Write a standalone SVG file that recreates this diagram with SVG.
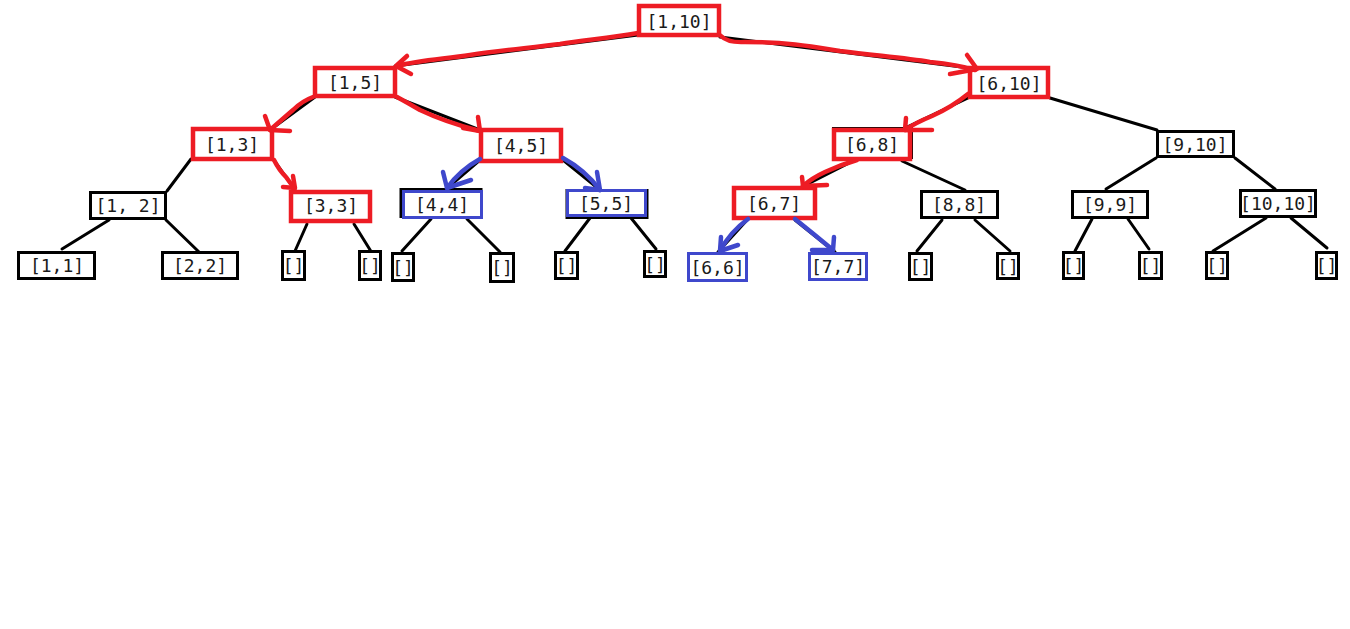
<svg xmlns="http://www.w3.org/2000/svg" width="1350" height="629" viewBox="0 0 1350 629">
<style>
.bg{fill:#ffffff}
.edge{stroke:#000;stroke-width:3;fill:none;stroke-linecap:round}
.box{fill:#fff;stroke:#000;stroke-width:3}
.red{fill:#fff;stroke:#ED1C24;stroke-width:4.5}
.blue{fill:#fff;stroke:#3F48CC;stroke-width:3}
.under{fill:none;stroke:#000;stroke-width:3}
.lbl{font-family:"DejaVu Sans Mono","Liberation Mono",monospace;font-size:18px;fill:#1a1a1a;text-anchor:middle;dominant-baseline:central}
.ra{stroke:#ED1C24;stroke-width:4.5;fill:none;stroke-linecap:round;stroke-linejoin:round}
.ba{stroke:#3F48CC;stroke-width:4.5;fill:none;stroke-linecap:round;stroke-linejoin:round}
</style>
<rect class="bg" x="0" y="0" width="1350" height="629"/>
<g id="connectors">
<line class="edge" x1="638" y1="35" x2="395" y2="66"/>
<line class="edge" x1="720" y1="37" x2="970" y2="68"/>
<line class="edge" x1="315" y1="97" x2="270" y2="130"/>
<line class="edge" x1="395" y1="97" x2="480" y2="130"/>
<line class="edge" x1="968" y1="98" x2="905" y2="128"/>
<line class="edge" x1="1050" y1="98" x2="1157" y2="130"/>
<line class="edge" x1="191" y1="159" x2="167" y2="191"/>
<line class="edge" x1="274" y1="160" x2="295" y2="190"/>
<line class="edge" x1="109" y1="220" x2="62" y2="249"/>
<line class="edge" x1="166" y1="220" x2="199" y2="252"/>
<line class="edge" x1="307" y1="224" x2="295" y2="251"/>
<line class="edge" x1="354" y1="224" x2="372" y2="253"/>
<line class="edge" x1="480" y1="160" x2="445" y2="190"/>
<line class="edge" x1="563" y1="160" x2="600" y2="190"/>
<line class="edge" x1="431" y1="219" x2="402" y2="251"/>
<line class="edge" x1="467" y1="219" x2="500" y2="252"/>
<line class="edge" x1="590" y1="218" x2="565" y2="251"/>
<line class="edge" x1="631" y1="218" x2="656" y2="249"/>
<line class="edge" x1="855" y1="160" x2="800" y2="188"/>
<line class="edge" x1="902" y1="161" x2="965" y2="190"/>
<line class="edge" x1="748" y1="219" x2="718" y2="252"/>
<line class="edge" x1="795" y1="220" x2="835" y2="252"/>
<line class="edge" x1="942" y1="220" x2="917" y2="251"/>
<line class="edge" x1="975" y1="220" x2="1010" y2="251"/>
<line class="edge" x1="1156" y1="158" x2="1106" y2="189"/>
<line class="edge" x1="1235" y1="158" x2="1275" y2="189"/>
<line class="edge" x1="1092" y1="219" x2="1075" y2="251"/>
<line class="edge" x1="1128" y1="219" x2="1149" y2="249"/>
<line class="edge" x1="1266" y1="218" x2="1213" y2="251"/>
<line class="edge" x1="1291" y1="218" x2="1327" y2="248"/>
</g>
<g id="n-1-10"><rect class="red" x="639" y="6" width="80" height="29"/><text class="lbl" x="679" y="21">[1,10]</text></g>
<g id="n-1-5"><rect class="red" x="315" y="68" width="80" height="28"/><text class="lbl" x="355" y="82">[1,5]</text></g>
<g id="n-6-10"><rect class="red" x="970" y="68" width="78" height="29"/><text class="lbl" x="1009" y="83">[6,10]</text></g>
<g id="n-1-3"><rect class="red" x="193" y="129" width="79" height="30"/><text class="lbl" x="232" y="144">[1,3]</text></g>
<g id="n-4-5"><rect class="red" x="481" y="130" width="80" height="31"/><text class="lbl" x="521" y="145">[4,5]</text></g>
<g id="n-6-8"><rect class="under" x="833.5" y="128.5" width="78" height="29"/><rect class="red" x="834" y="130" width="76" height="29"/><text class="lbl" x="872" y="144">[6,8]</text></g>
<g id="n-9-10"><rect class="box" x="1157.5" y="131.5" width="76" height="25"/><text class="lbl" x="1195" y="144">[9,10]</text></g>
<g id="n-1-2"><rect class="box" x="90.5" y="192.5" width="75" height="26"/><text class="lbl" x="128" y="205">[1, 2]</text></g>
<g id="n-3-3"><rect class="red" x="291" y="192" width="79" height="29"/><text class="lbl" x="331" y="205">[3,3]</text></g>
<g id="n-4-4"><rect class="under" x="401" y="189.5" width="80" height="27"/><rect class="blue" x="403.5" y="191.5" width="78" height="26"/><text class="lbl" x="442" y="204">[4,4]</text></g>
<g id="n-5-5"><rect class="under" x="567" y="190.5" width="80" height="27"/><rect class="blue" x="567.5" y="190.5" width="78" height="25"/><text class="lbl" x="606" y="203">[5,5]</text></g>
<g id="n-6-7"><rect class="red" x="734" y="188" width="81" height="30"/><text class="lbl" x="774" y="203">[6,7]</text></g>
<g id="n-8-8"><rect class="box" x="921.5" y="191.5" width="76" height="26"/><text class="lbl" x="959" y="204">[8,8]</text></g>
<g id="n-9-9"><rect class="box" x="1072.5" y="191.5" width="75" height="26"/><text class="lbl" x="1110" y="204">[9,9]</text></g>
<g id="n-10-10"><rect class="box" x="1240.5" y="190.5" width="75" height="26"/><text class="lbl" x="1278" y="203">[10,10]</text></g>
<g id="n-1-1"><rect class="box" x="18.5" y="252.5" width="76" height="26"/><text class="lbl" x="57" y="265">[1,1]</text></g>
<g id="n-2-2"><rect class="box" x="162.5" y="252.5" width="75" height="26"/><text class="lbl" x="200" y="265">[2,2]</text></g>
<g id="n-e1"><rect class="box" x="282.5" y="251.5" width="22" height="28"/><text class="lbl" x="293.5" y="265">[]</text></g>
<g id="n-e2"><rect class="box" x="359.5" y="251.5" width="21" height="28"/><text class="lbl" x="370" y="265">[]</text></g>
<g id="n-e3"><rect class="box" x="392.5" y="253.5" width="21" height="27"/><text class="lbl" x="403" y="267">[]</text></g>
<g id="n-e4"><rect class="box" x="490.5" y="253.5" width="23" height="28"/><text class="lbl" x="502" y="267">[]</text></g>
<g id="n-e5"><rect class="box" x="555.5" y="252.5" width="22" height="26"/><text class="lbl" x="566.5" y="265">[]</text></g>
<g id="n-e6"><rect class="box" x="644.5" y="251.5" width="21" height="25"/><text class="lbl" x="655" y="264">[]</text></g>
<g id="n-6-6"><rect class="blue" x="688.5" y="253.5" width="58" height="27"/><text class="lbl" x="717.5" y="267">[6,6]</text></g>
<g id="n-7-7"><rect class="blue" x="809.5" y="253.5" width="57" height="26"/><text class="lbl" x="838" y="266">[7,7]</text></g>
<g id="n-e7"><rect class="box" x="909.5" y="253.5" width="22" height="26"/><text class="lbl" x="920.5" y="266">[]</text></g>
<g id="n-e8"><rect class="box" x="997.5" y="253.5" width="21" height="25"/><text class="lbl" x="1008" y="266">[]</text></g>
<g id="n-e9"><rect class="box" x="1063.5" y="252.5" width="20" height="26"/><text class="lbl" x="1073.5" y="265">[]</text></g>
<g id="n-e10"><rect class="box" x="1139.5" y="252.5" width="22" height="26"/><text class="lbl" x="1150.5" y="265">[]</text></g>
<g id="n-e11"><rect class="box" x="1206.5" y="252.5" width="21" height="26"/><text class="lbl" x="1217" y="265">[]</text></g>
<g id="n-e12"><rect class="box" x="1316.5" y="252.5" width="20" height="26"/><text class="lbl" x="1326.5" y="265">[]</text></g>
<g id="traversal">
<path class="ra" d="M638,33 C610,38 585,40 560,44 C530,48 500,50 470,55 C445,59 420,60 397,66"/>
<path class="ra" d="M407,56 L396,66 L411,74"/>
<path class="ra" d="M721,36 Q728,43 745,42 C790,42 815,47 840,51 C880,56 905,58 930,62 C950,64 962,66 975,70"/>
<path class="ra" d="M967,55 L977,69 L950,74"/>
<path class="ra" d="M313,97 Q302,101 293,110 L270,130"/>
<path class="ra" d="M265,116 L270,130 L290,131"/>
<path class="ra" d="M397,97 Q408,103 420,110 Q445,122 480,131"/>
<path class="ra" d="M478,117 L480,131 L463,128"/>
<path class="ra" d="M274,160 Q279,170 286,177 L294,188"/>
<path class="ra" d="M293,176 L295,188 L283,187"/>
<path class="ra" d="M968,94 Q952,107 932,116 Q915,123 905,130"/>
<path class="ra" d="M906,118 L905,130 L932,130"/>
<path class="ra" d="M857,160 Q840,165 825,172 Q812,178 803,186"/>
<path class="ra" d="M802,177 L803,186 L827,185"/>
<path class="ba" d="M480,159 Q460,170 447,188"/>
<path class="ba" d="M443,172 L447,188 L471,180"/>
<path class="ba" d="M563,158 Q585,170 600,190"/>
<path class="ba" d="M597,172 L600,190 L585,188"/>
<path class="ba" d="M748,219 Q730,232 720,251"/>
<path class="ba" d="M721,237 L720,251 L738,245"/>
<path class="ba" d="M795,219 Q815,235 833,250"/>
<path class="ba" d="M834,237 L833,250 L812,250"/>
</g>
</svg>
